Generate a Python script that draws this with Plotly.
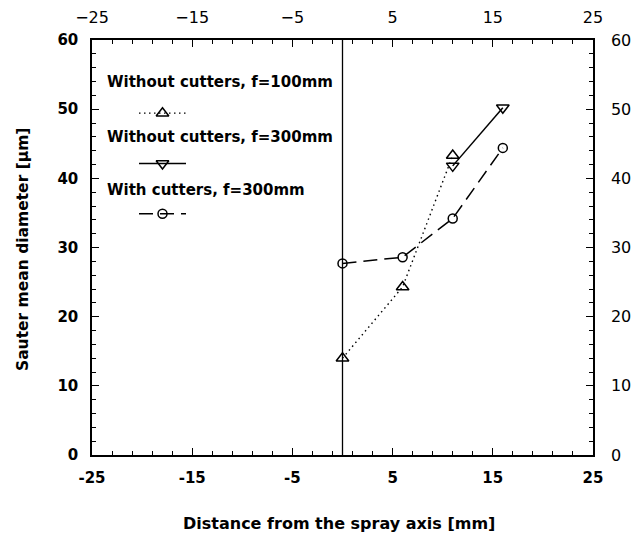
import plotly.graph_objects as go

# Data
x_f100 = [0, 6, 11]
y_f100 = [14.0, 24.3, 43.3]
x_f300 = [11, 16]
y_f300 = [41.8, 50.2]
x_cut = [0, 6, 11, 16]
y_cut = [27.7, 28.6, 34.2, 44.4]

names = ["Without cutters, f=100mm", "Without cutters, f=300mm", "With cutters, f=300mm"]
x_ticks = [-25, -15, -5, 5, 15, 25]
y_ticks = [0, 10, 20, 30, 40, 50, 60]

BOLD = "DejaVu Sans"
BLK = "black"
OFF = 7                      # page offset of the figure
PL, PR, PT, PB = 91, 592, 39, 454   # plot area in page pixels
W, H = 636, 535


def px(x):
    return (x - PL) / (PR - PL)


def py(y):
    return (PB - y) / (PB - PT)


styles = [
    dict(line=dict(color=BLK, width=1.4, dash="1.5px,3.5px"), symbol="triangle-up-open", size=11),
    dict(line=dict(color=BLK, width=1.5), symbol="triangle-down-open", size=11),
    dict(line=dict(color=BLK, width=1.5, dash="14px,7px"), symbol="circle-open", size=9),
]

fig = go.Figure()

for (xs, ys), st in zip([(x_f100, y_f100), (x_f300, y_f300), (x_cut, y_cut)], styles):
    fig.add_trace(go.Scatter(x=xs, y=ys, mode="lines+markers", line=st["line"],
                             marker=dict(symbol=st["symbol"], size=st["size"], color=BLK,
                                         line=dict(width=1.5, color=BLK)),
                             showlegend=False))

# legend samples on an auxiliary unit axis
leg_x = [0.0, 1.0]
for row, st in zip([3, 2, 1], styles):
    fig.add_trace(go.Scatter(x=leg_x, y=[row, row], xaxis="x3", yaxis="y3", mode="lines",
                             line=st["line"], showlegend=False, hoverinfo="skip"))
    fig.add_trace(go.Scatter(x=[0.5], y=[row], xaxis="x3", yaxis="y3", mode="markers",
                             marker=dict(symbol=st["symbol"], size=st["size"], color=BLK,
                                         line=dict(width=1.5, color=BLK)),
                             showlegend=False, hoverinfo="skip"))

# dummy trace to activate top / right axes
fig.add_trace(go.Scatter(x=[0], y=[0], xaxis="x2", yaxis="y2", mode="markers",
                         marker=dict(opacity=0), showlegend=False, hoverinfo="skip"))

fig.add_shape(type="line", xref="x", yref="y domain", x0=0, x1=0, y0=0, y1=1,
              line=dict(color=BLK, width=1.3))

for nm, yy in zip(names, [81, 136, 189]):
    fig.add_annotation(text="<b>%s</b>" % nm, xref="paper", yref="paper",
                       x=px(104), y=py(yy), xanchor="left", yanchor="middle",
                       showarrow=False, font=dict(family=BOLD, size=15, color=BLK))

# axis titles
fig.add_annotation(text="<b>Distance from the spray axis [mm]</b>", xref="paper", yref="paper",
                   x=px(338), y=py(522), xanchor="center", yanchor="middle", showarrow=False,
                   font=dict(family=BOLD, size=16, color=BLK))
fig.add_annotation(text="<b>Sauter mean diameter [µm]</b>", xref="paper", yref="paper",
                   x=px(22), y=py(249), xanchor="center", yanchor="middle",
                   showarrow=False, textangle=-90, font=dict(family=BOLD, size=15.5, color=BLK))

common = dict(showline=True, linecolor=BLK, linewidth=1.5, mirror=False, showgrid=False,
              zeroline=False, ticks="inside", tickcolor=BLK, tickwidth=1.3, ticklen=7, automargin=False)
minor_x = dict(tick0=-25, dtick=2, ticks="inside", ticklen=4, tickcolor=BLK, tickwidth=1.2)
minor_y = dict(tick0=0, dtick=2, ticks="inside", ticklen=4, tickcolor=BLK, tickwidth=1.2)

fig.update_layout(
    width=W, height=H,
    margin=dict(l=PL - OFF, r=W - (PR - OFF), t=PT - OFF, b=H - (PB - OFF)),
    paper_bgcolor="white", plot_bgcolor="white",
    font=dict(family=BOLD, color=BLK),
    xaxis=dict(range=[-25, 25], tickvals=x_ticks, ticktext=["<b>%d</b>" % v for v in x_ticks],
               tickfont=dict(size=15), ticklabelstandoff=8, minor=minor_x, **common),
    yaxis=dict(range=[0, 60], tickvals=y_ticks, ticktext=["<b>%d</b>" % v for v in y_ticks],
               tickfont=dict(size=15), ticklabelstandoff=9, minor=minor_y, **common),
    xaxis2=dict(range=[-25, 25], overlaying="x", side="top", anchor="y", tickvals=x_ticks,
                ticktext=["−25", "−15", "−5", "5", "15", "25"], tickfont=dict(size=16),
                ticklabelstandoff=9, minor=minor_x, **common),
    yaxis2=dict(range=[0, 60], overlaying="y", side="right", anchor="x", tickvals=y_ticks,
                tickfont=dict(size=16), ticklabelstandoff=13, minor=minor_y, **common),
    xaxis3=dict(domain=[px(138), px(185)], range=[0, 1], visible=False,
                fixedrange=True, anchor="y3"),
    yaxis3=dict(domain=[py(238), py(87)], range=[0.5, 3.5], visible=False,
                fixedrange=True, anchor="x3"),
)

fig.write_html("out.html")
